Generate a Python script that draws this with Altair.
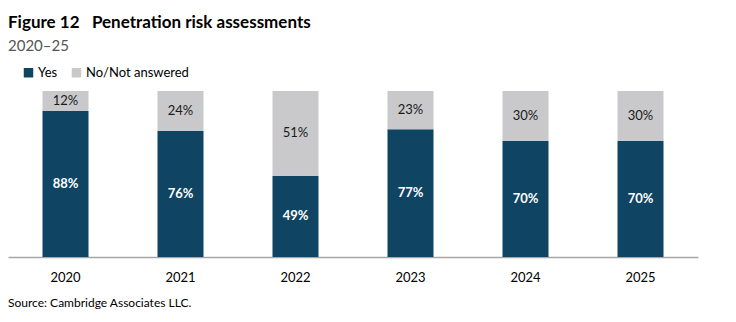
import altair as alt
import pandas as pd

years = ["2020", "2021", "2022", "2023", "2024", "2025"]
yes_vals = [88, 76, 49, 77, 70, 70]
no_vals = [12, 24, 51, 23, 30, 30]
series = ["Yes", "No/Not answered"]
colors = ["#0F4462", "#C9C9CB"]

rows = []
for i, y in enumerate(years):
    rows.append({"year": y, "series": "Yes", "value": yes_vals[i], "ord": 0})
    rows.append({"year": y, "series": "No/Not answered", "value": no_vals[i], "ord": 1})
df = pd.DataFrame(rows)

FONT = "Lato"

base = alt.Chart(df).transform_stack(
    stack="value", groupby=["year"], as_=["y0", "y1"],
    sort=[alt.SortField("ord", order="ascending")]
).transform_calculate(
    mid="(datum.y0 + datum.y1) / 2",
    label="datum.value + '%'"
)

xenc = alt.X("year:N", sort=years,
             scale=alt.Scale(paddingInner=0.6, paddingOuter=0.3),
             axis=alt.Axis(title=None, labelAngle=0, ticks=False, domainColor="#A6A6A6",
                           labelFont=FONT, labelFontSize=13, labelColor="#000000",
                           labelPadding=14, domainWidth=1.5))

yscale = alt.Scale(domain=[0, 100], nice=False)

bars = base.mark_bar().encode(
    x=xenc,
    y=alt.Y("y0:Q", scale=yscale, axis=None),
    y2="y1:Q",
    color=alt.Color("series:N", sort=series,
                    scale=alt.Scale(domain=series, range=colors),
                    legend=alt.Legend(title=None, orient="none", legendX=14, legendY=-25,
                                      direction="horizontal", symbolType="square",
                                      symbolSize=90, symbolStrokeWidth=0,
                                      labelFont=FONT, labelFontSize=13, labelColor="#000000",
                                      columnPadding=12, labelOffset=3)),
)

yes_labels = base.transform_filter("datum.series == 'Yes'").mark_text(
    font=FONT, fontSize=13, fontWeight="bold", color="#FFFFFF").encode(
    x=alt.X("year:N", sort=years),
    y=alt.Y("mid:Q", scale=yscale),
    text="label:N",
)
no_labels = base.transform_filter("datum.series != 'Yes'").mark_text(
    font=FONT, fontSize=13, color="#1A1A1A").encode(
    x=alt.X("year:N", sort=years),
    y=alt.Y("mid:Q", scale=yscale),
    text="label:N",
)

source = alt.Chart(pd.DataFrame({"t": ["Source: Cambridge Associates LLC."]})).mark_text(
    font=FONT, fontSize=12, align="left", baseline="middle", color="#000000"
).encode(x=alt.value(0), y=alt.value(212), text="t:N")

chart = alt.layer(bars, yes_labels, no_labels, source).properties(
    width=690, height=166,
    title=alt.TitleParams(text="Figure 12\u00a0\u00a0\u00a0Penetration risk assessments",
                          subtitle="2020–25", anchor="start", offset=11,
                          font=FONT, fontSize=17, fontWeight="bold", color="#000000",
                          subtitleFont=FONT, subtitleFontSize=15, subtitleColor="#555555",
                          subtitlePadding=7),
    autosize=alt.AutoSizeParams(type="none"),
    padding={"left": 8, "top": 91, "right": 38, "bottom": 65},
).configure_view(stroke=None)

chart.save("out.html", embed_options={"renderer": "svg", "actions": False})
